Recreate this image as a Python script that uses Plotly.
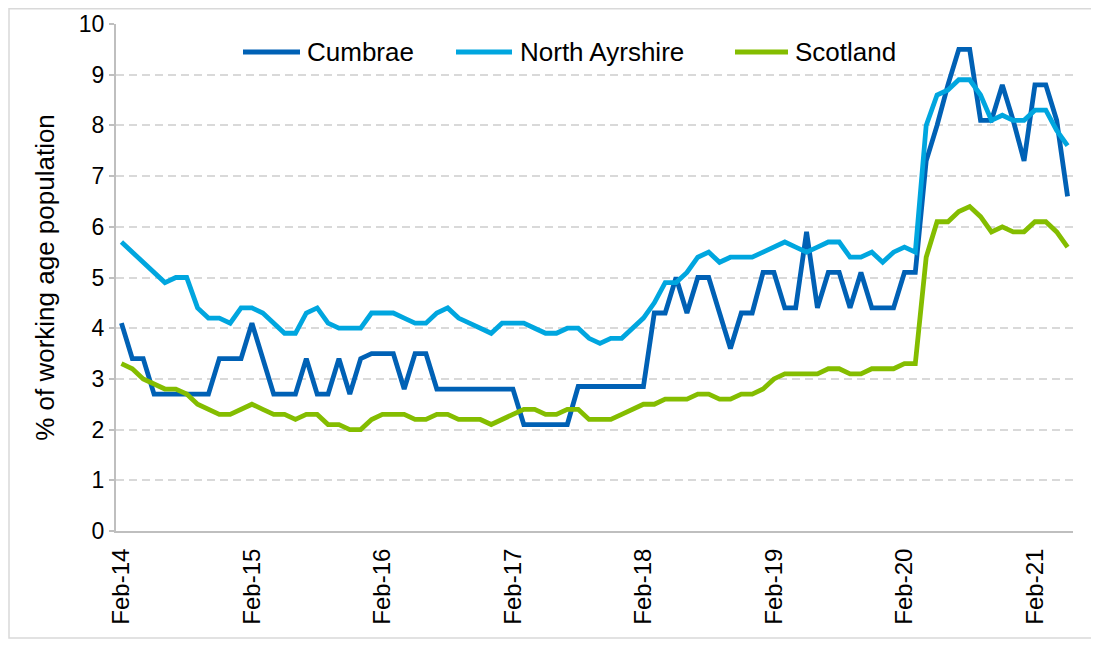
import plotly.graph_objects as go
import pandas as pd

# Monthly categories Feb-14 .. May-21
months = [d.strftime("%b-%y") for d in pd.date_range("2014-02-01", periods=88, freq="MS")]
tick_labels = ["Feb-14", "Feb-15", "Feb-16", "Feb-17", "Feb-18", "Feb-19", "Feb-20", "Feb-21"]

cumbrae = [
    4.1, 3.4, 3.4, 2.7, 2.7, 2.7, 2.7, 2.7, 2.7, 3.4,
    3.4, 3.4, 4.1, 3.4, 2.7, 2.7, 2.7, 3.4, 2.7, 2.7,
    3.4, 2.7, 3.4, 3.5, 3.5, 3.5, 2.8, 3.5, 3.5, 2.8,
    2.8, 2.8, 2.8, 2.8, 2.8, 2.8, 2.8, 2.1, 2.1, 2.1,
    2.1, 2.1, 2.85, 2.85, 2.85, 2.85, 2.85, 2.85, 2.85, 4.3,
    4.3, 5.0, 4.3, 5.0, 5.0, 4.3, 3.6, 4.3, 4.3, 5.1,
    5.1, 4.4, 4.4, 5.9, 4.4, 5.1, 5.1, 4.4, 5.1, 4.4,
    4.4, 4.4, 5.1, 5.1, 7.3, 8.0, 8.8, 9.5, 9.5, 8.1,
    8.1, 8.8, 8.1, 7.3, 8.8, 8.8, 8.1, 6.6,
]

north_ayrshire = [
    5.7, 5.5, 5.3, 5.1, 4.9, 5.0, 5.0, 4.4, 4.2, 4.2,
    4.1, 4.4, 4.4, 4.3, 4.1, 3.9, 3.9, 4.3, 4.4, 4.1,
    4.0, 4.0, 4.0, 4.3, 4.3, 4.3, 4.2, 4.1, 4.1, 4.3,
    4.4, 4.2, 4.1, 4.0, 3.9, 4.1, 4.1, 4.1, 4.0, 3.9,
    3.9, 4.0, 4.0, 3.8, 3.7, 3.8, 3.8, 4.0, 4.2, 4.5,
    4.9, 4.9, 5.1, 5.4, 5.5, 5.3, 5.4, 5.4, 5.4, 5.5,
    5.6, 5.7, 5.6, 5.5, 5.6, 5.7, 5.7, 5.4, 5.4, 5.5,
    5.3, 5.5, 5.6, 5.5, 8.0, 8.6, 8.7, 8.9, 8.9, 8.6,
    8.1, 8.2, 8.1, 8.1, 8.3, 8.3, 7.9, 7.6,
]

scotland = [
    3.3, 3.2, 3.0, 2.9, 2.8, 2.8, 2.7, 2.5, 2.4, 2.3,
    2.3, 2.4, 2.5, 2.4, 2.3, 2.3, 2.2, 2.3, 2.3, 2.1,
    2.1, 2.0, 2.0, 2.2, 2.3, 2.3, 2.3, 2.2, 2.2, 2.3,
    2.3, 2.2, 2.2, 2.2, 2.1, 2.2, 2.3, 2.4, 2.4, 2.3,
    2.3, 2.4, 2.4, 2.2, 2.2, 2.2, 2.3, 2.4, 2.5, 2.5,
    2.6, 2.6, 2.6, 2.7, 2.7, 2.6, 2.6, 2.7, 2.7, 2.8,
    3.0, 3.1, 3.1, 3.1, 3.1, 3.2, 3.2, 3.1, 3.1, 3.2,
    3.2, 3.2, 3.3, 3.3, 5.4, 6.1, 6.1, 6.3, 6.4, 6.2,
    5.9, 6.0, 5.9, 5.9, 6.1, 6.1, 5.9, 5.6,
]

series_names = ["Cumbrae", "North Ayrshire", "Scotland"]
series_values = [cumbrae, north_ayrshire, scotland]
series_colors = ["#0061B5", "#00A6DF", "#84BD00"]

FONT = "Liberation Sans, Arial, sans-serif"

# plot-area geometry (figure pixels); page body adds an 8px offset
W, H = 1091, 638
ML, MR, MT, MB = 108, 26, 16, 115
PW, PH = W - ML - MR, H - MT - MB


def px_x(x):
    return (x - ML) / PW


def px_y(y):
    return (H - MB - y) / PH


fig = go.Figure()
for name, vals, col in zip(series_names, series_values, series_colors):
    fig.add_trace(go.Scatter(
        x=months, y=vals, name=name, mode="lines",
        line=dict(color=col, width=4.8, shape="linear"),
        showlegend=False,
    ))

# legend drawn as line samples + labels (long Excel-style samples)
legend_line_x = [(235, 292), (448, 504), (727, 780)]
legend_text_x = [297, 510, 785]
legend_y = px_y(44)
shapes = []
annotations = []
for (x0, x1), tx, name, col in zip(legend_line_x, legend_text_x, series_names, series_colors):
    shapes.append(dict(type="line", xref="paper", yref="paper",
                       x0=px_x(x0), x1=px_x(x1), y0=legend_y, y1=legend_y,
                       line=dict(color=col, width=4.8)))
    annotations.append(dict(text=name, xref="paper", yref="paper",
                            x=px_x(tx), y=legend_y, xanchor="left", yanchor="middle",
                            showarrow=False, font=dict(size=26, color="#000000")))

shapes.append(dict(
    type="rect", xref="paper", yref="paper",
    x0=px_x(1), x1=px_x(1085), y0=px_y(630), y1=px_y(0.75),
    line=dict(color="#D9D9D9", width=1.5), fillcolor="rgba(0,0,0,0)", layer="below",
))

fig.update_layout(
    width=W, height=H,
    margin=dict(l=ML, r=MR, t=MT, b=MB, autoexpand=False),
    paper_bgcolor="white", plot_bgcolor="white",
    font=dict(family=FONT, size=22, color="#000000"),
    showlegend=False,
    xaxis=dict(
        type="category", range=[-0.5, len(months) - 0.5],
        tickmode="array", tickvals=tick_labels, ticktext=tick_labels,
        tickangle=-90, tickfont=dict(size=24),
        showgrid=False, zeroline=False, automargin=False,
        showline=True, linecolor="#BFBFBF", linewidth=2,
        ticks="", ticklabelstandoff=6,
    ),
    yaxis=dict(
        range=[0, 10], dtick=1, tick0=0, automargin=False,
        showgrid=True, gridcolor="#D9D9D9", gridwidth=2, griddash="8px,5px",
        zeroline=False,
        showline=True, linecolor="#BFBFBF", linewidth=2,
        ticks="outside", ticklen=5, tickcolor="#BFBFBF", tickwidth=1.5,
        tickfont=dict(size=23),
        title=dict(text="% of working age population", font=dict(size=26), standoff=17),
    ),
    shapes=shapes,
    annotations=annotations,
)

fig.write_html("out.html")
